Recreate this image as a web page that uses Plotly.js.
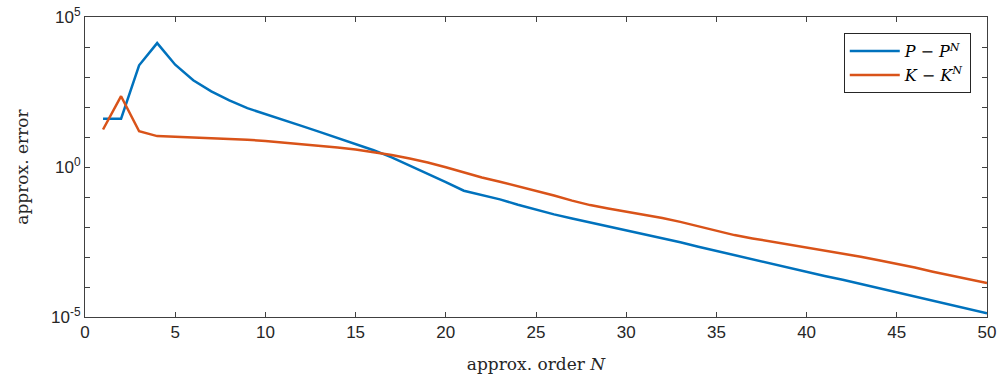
<!DOCTYPE html>
<html>
<head>
<meta charset="utf-8">
<script src="https://cdn.plot.ly/plotly-3.0.1.min.js"></script>
<style>html,body{margin:0;padding:0;background:#fff;}#chart{width:1000px;height:385px;}</style>
</head>
<body>
<div id="chart"></div>
<script>
const orderN = [1,2,3,4,5,6,7,8,9,10,11,12,13,14,15,16,17,18,19,20,21,22,23,24,25,26,27,28,29,30,31,32,33,34,35,36,37,38,39,40,41,42,43,44,45,46,47,48,49,50];
const errP = [40.7,40.7,2.45e3,1.35e4,2.57e3,776,331,166,91.2,58.9,37.2,23.4,14.8,9.33,5.89,3.63,2.09,1.12,0.603,0.316,
  0.162,0.117,0.0832,0.0550,0.0372,0.0263,0.0191,0.0141,0.0107,0.00813,0.00589,0.00427,0.00309,0.00219,0.00158,0.00115,
  8.32e-4,6.03e-4,4.37e-4,3.16e-4,2.34e-4,1.74e-4,1.26e-4,9.12e-5,6.61e-5,4.79e-5,3.47e-5,2.51e-5,1.82e-5,1.32e-5];
const errK = [17.8,229,15.5,10.7,10.2,9.77,9.33,8.71,8.13,7.41,6.61,5.89,5.13,4.47,3.80,3.16,2.51,1.91,1.41,0.98,
  0.646,0.447,0.324,0.229,0.166,0.112,0.0759,0.0537,0.0417,0.0331,0.0263,0.0200,0.0148,0.0105,0.00741,0.00537,
  0.00417,0.00331,0.00263,0.00204,0.00166,0.00132,0.00102,7.76e-4,6.03e-4,4.47e-4,3.24e-4,2.45e-4,1.82e-4,1.35e-4];
const seriesNames = ['<i>P</i> \u2212 <i>P</i><sup><i>N</i></sup>', '<i>K</i> \u2212 <i>K</i><sup><i>N</i></sup>'];
const xTicks = [0,5,10,15,20,25,30,35,40,45,50];
const yTickVals = [1e-5,1e-4,1e-3,1e-2,1e-1,1,10,100,1e3,1e4,1e5];
const yTickText = ['10<sup>-5</sup>','','','','','10<sup>0</sup>','','','','','10<sup>5</sup>'];

const axisColor = '#404040';
const traces = [
  {x: orderN, y: errP, name: seriesNames[0], type: 'scatter', mode: 'lines', line: {color: '#0072BD', width: 2.5}},
  {x: orderN, y: errK, name: seriesNames[1], type: 'scatter', mode: 'lines', line: {color: '#D95319', width: 2.5}}
];
const layout = {
  width: 1000, height: 385,
  margin: {l: 85, r: 13, t: 17, b: 68},
  paper_bgcolor: '#fff', plot_bgcolor: '#fff',
  showlegend: true,
  legend: {x: 0.982, y: 0.946, xanchor: 'right', yanchor: 'top', bgcolor: '#fff',
    bordercolor: '#262626', borderwidth: 1, itemwidth: 50,
    font: {family: 'DejaVu Serif', size: 16, color: '#000'}, tracegroupgap: 0},
  xaxis: {
    range: [0, 50], tickvals: xTicks, ticktext: xTicks.map(String),
    ticks: 'inside', ticklen: 5, tickcolor: axisColor, showline: true, linecolor: axisColor, linewidth: 1,
    mirror: 'ticks', showgrid: false, zeroline: false,
    tickfont: {family: 'Liberation Sans', size: 17, color: '#262626'},
    title: {text: 'approx. order <i>N</i>', font: {family: 'DejaVu Serif', size: 17, color: '#262626'}, standoff: 16}
  },
  yaxis: {
    type: 'log', range: [-5, 5], tickvals: yTickVals, ticktext: yTickText,
    ticks: 'inside', ticklen: 5, tickcolor: axisColor, showline: true, linecolor: axisColor, linewidth: 1,
    mirror: 'ticks', showgrid: false, zeroline: false,
    tickfont: {family: 'Liberation Sans', size: 17, color: '#262626'},
    title: {text: 'approx. error', font: {family: 'DejaVu Serif', size: 17, color: '#262626'}, standoff: 18}
  }
};
Plotly.newPlot('chart', traces, layout, {displayModeBar: false, staticPlot: true});
</script>
</body>
</html>
